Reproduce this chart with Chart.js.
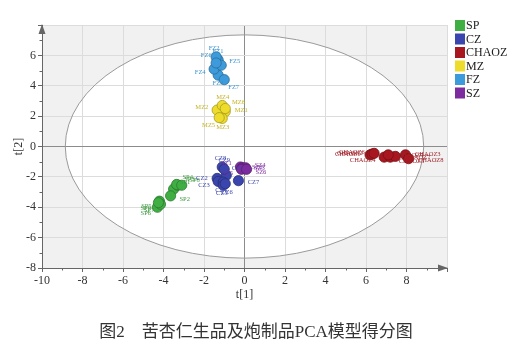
<!DOCTYPE html>
<html>
<head>
<meta charset="utf-8">
<script src="https://cdn.jsdelivr.net/npm/chart.js@4.4.1/dist/chart.umd.min.js"></script>
<style>
  html, body { margin: 0; padding: 0; background: #fff; }
  #wrap { position: relative; width: 512px; height: 352px; }
  #caption {
    position: absolute; left: 0; top: 317px; width: 512px; text-align: center;
    font-family: "Liberation Serif", "Noto Sans CJK SC", serif; font-size: 17px; color: #333;
  }
</style>
</head>
<body>
<div id="wrap">
  <canvas id="pca" width="512" height="352"></canvas>
  <div id="caption">图2　苦杏仁生品及炮制品PCA模型得分图</div>
</div>
<script>
  // Grupos (orden de la leyenda)
  var groups = ['SP', 'CZ', 'CHAOZ', 'MZ', 'FZ', 'SZ'];
  var groupColors = ['#3fae43', '#3a45ad', '#a8171f', '#eedc2c', '#3d9bdb', '#7c2c9f'];

  // Puntuaciones t[1] / t[2] de cada muestra
  var spNames = ['SP1', 'SP2', 'SP3', 'SP4', 'SP5', 'SP6', 'SP7', 'SP8', 'SP9'];
  var spX = [-3.5, -3.65, -3.3, -3.35, -4.2, -4.3, -4.15, -3.1, -4.25];
  var spY = [-2.8, -3.25, -2.55, -2.5, -3.6, -4.0, -3.8, -2.55, -3.7];

  var czNames = ['CZ1', 'CZ2', 'CZ3', 'CZ4', 'CZ5', 'CZ6', 'CZ7', 'CZ8', 'CZ9'];
  var czX = [-0.9, -1.35, -1.3, -1.05, -1.05, -0.95, -0.3, -1.1, -1.0];
  var czY = [-1.9, -2.1, -2.3, -2.35, -2.55, -2.45, -2.25, -1.35, -1.5];

  var chaozNames = ['CHAOZ1', 'CHAOZ2', 'CHAOZ3', 'CHAOZ4', 'CHAOZ5', 'CHAOZ6', 'CHAOZ7', 'CHAOZ8', 'CHAOZ9'];
  var chaozX = [6.2, 6.3, 7.95, 6.9, 7.2, 6.4, 7.45, 8.1, 7.1];
  var chaozY = [-0.55, -0.5, -0.55, -0.7, -0.7, -0.45, -0.65, -0.8, -0.55];

  var mzNames = ['MZ1', 'MZ2', 'MZ3', 'MZ4', 'MZ5', 'MZ6'];
  var mzX = [-0.95, -1.35, -1.1, -1.1, -1.25, -0.95];
  var mzY = [2.3, 2.4, 1.85, 2.7, 1.9, 2.5];

  var fzNames = ['FZ1', 'FZ2', 'FZ3', 'FZ4', 'FZ5', 'FZ6', 'FZ7'];
  var fzX = [-1.3, -1.4, -1.3, -1.5, -1.15, -1.4, -1.0];
  var fzY = [5.7, 5.9, 4.7, 5.1, 5.35, 5.5, 4.4];

  var szNames = ['SZ1', 'SZ2', 'SZ3', 'SZ4', 'SZ5', 'SZ6'];
  var szX = [-0.2, -0.1, 0.0, 0.05, -0.15, 0.1];
  var szY = [-1.35, -1.4, -1.45, -1.4, -1.5, -1.5];

  // Elipse de Hotelling T2 (semiejes en t[1] y t[2])
  var ellipseA = 8.85;
  var ellipseB = 7.35;

  var xTicks = [-10, -8, -6, -4, -2, 0, 2, 4, 6, 8];
  var yTicks = [-8, -6, -4, -2, 0, 2, 4, 6];

  var serif = '"Liberation Serif", "Times New Roman", serif';

  function toPoints(xs, ys) {
    return xs.map(function(x, i) { return { x: x, y: ys[i] }; });
  }

  var allX = [spX, czX, chaozX, mzX, fzX, szX];
  var allY = [spY, czY, chaozY, mzY, fzY, szY];
  var allNames = [spNames, czNames, chaozNames, mzNames, fzNames, szNames];

  function darker(hex, f) {
    var n = parseInt(hex.slice(1), 16);
    var r = Math.round(((n >> 16) & 255) * f), g = Math.round(((n >> 8) & 255) * f), b = Math.round((n & 255) * f);
    return 'rgb(' + r + ',' + g + ',' + b + ')';
  }

  var datasets = groups.map(function(g, i) {
    return {
      label: g,
      data: toPoints(allX[i], allY[i]),
      names: allNames[i],
      backgroundColor: groupColors[i],
      borderColor: darker(groupColors[i], 0.7),
      borderWidth: 0.8,
      pointRadius: 5.1
    };
  });

  // Fondo gris + interior blanco de la elipse
  var ellipsePlugin = {
    id: 'ellipse',
    beforeDraw: function(chart) {
      var ctx = chart.ctx, a = chart.chartArea, sx = chart.scales.x, sy = chart.scales.y;
      ctx.save();
      ctx.fillStyle = '#f1f1f1';
      ctx.fillRect(a.left, a.top, a.right - a.left, a.bottom - a.top);
      var cx = sx.getPixelForValue(0), cy = sy.getPixelForValue(0);
      var rx = sx.getPixelForValue(ellipseA) - cx, ry = cy - sy.getPixelForValue(ellipseB);
      ctx.beginPath();
      ctx.ellipse(cx, cy, rx, ry, 0, 0, Math.PI * 2);
      ctx.fillStyle = '#ffffff';
      ctx.fill();
      ctx.restore();
    },
    beforeDatasetsDraw: function(chart) {
      var ctx = chart.ctx, a = chart.chartArea, sx = chart.scales.x, sy = chart.scales.y;
      var cx = sx.getPixelForValue(0), cy = sy.getPixelForValue(0);
      var rx = sx.getPixelForValue(ellipseA) - cx, ry = cy - sy.getPixelForValue(ellipseB);
      ctx.save();
      ctx.beginPath();
      ctx.ellipse(cx, cy, rx, ry, 0, 0, Math.PI * 2);
      ctx.strokeStyle = '#9a9a9a';
      ctx.lineWidth = 1;
      ctx.stroke();

      // marcas menores y flechas de los ejes
      ctx.strokeStyle = '#666';
      ctx.fillStyle = '#666';
      ctx.beginPath();
      for (var v = -9; v <= 9; v += 2) {
        var px = Math.round(sx.getPixelForValue(v)) + 0.5;
        ctx.moveTo(px, a.bottom); ctx.lineTo(px, a.bottom + 2.5);
      }
      for (var w = -7; w <= 7; w += 2) {
        var py = Math.round(sy.getPixelForValue(w)) + 0.5;
        ctx.moveTo(a.left, py); ctx.lineTo(a.left - 2.5, py);
      }
      ctx.stroke();
      ctx.beginPath();
      ctx.moveTo(a.right + 1, a.bottom);
      ctx.lineTo(a.right - 9, a.bottom - 3.5);
      ctx.lineTo(a.right - 9, a.bottom + 3.5);
      ctx.closePath();
      ctx.fill();
      ctx.beginPath();
      ctx.moveTo(a.left, a.top - 1);
      ctx.lineTo(a.left - 3.5, a.top + 9);
      ctx.lineTo(a.left + 3.5, a.top + 9);
      ctx.closePath();
      ctx.fill();
      ctx.restore();
    }
  };

  // Etiquetas de cada muestra, hacia fuera del centro del grupo
  var labelColors = ['#3e9a40', '#3a45ad', '#a01f27', '#c4b322', '#3a92cf', '#7c2c9f'];
  var labelPlugin = {
    id: 'pointLabels',
    afterDatasetsDraw: function(chart) {
      var ctx = chart.ctx;
      ctx.save();
      ctx.font = '6.5px ' + serif;
      ctx.textBaseline = 'middle';
      chart.data.datasets.forEach(function(ds, i) {
        var pts = chart.getDatasetMeta(i).data;
        var mx = 0, my = 0;
        pts.forEach(function(p) { mx += p.x; my += p.y; });
        mx /= pts.length; my /= pts.length;
        ctx.fillStyle = labelColors[i];
        pts.forEach(function(p, j) {
          var dx = p.x - mx, dy = p.y - my, len = Math.sqrt(dx * dx + dy * dy);
          if (len < 1.5) { dx = 1; dy = 0; len = 1; }
          dx /= len; dy /= len;
          var lx = p.x + dx * 9.5, ly = p.y + dy * 8.5;
          ctx.textAlign = dx > 0.35 ? 'left' : (dx < -0.35 ? 'right' : 'center');
          ctx.fillText(ds.names[j], lx, ly);
        });
      });
      ctx.restore();
    }
  };

  // Leyenda a la derecha
  var legendPlugin = {
    id: 'sideLegend',
    afterDraw: function(chart) {
      var ctx = chart.ctx;
      ctx.save();
      ctx.font = '12px ' + serif;
      ctx.textBaseline = 'middle';
      ctx.textAlign = 'left';
      groups.forEach(function(g, i) {
        var y = 25.5 + i * 13.5;
        ctx.fillStyle = groupColors[i];
        ctx.fillRect(455, y - 5.5, 10, 11);
        ctx.fillStyle = '#222';
        ctx.fillText(g, 466, y + 0.5);
      });
      ctx.restore();
    }
  };

  function gridColor(c) {
    if (c.tick && c.tick.value === 0) return '#8c8c8c';
    return '#dcdcdc';
  }

  new Chart(document.getElementById('pca').getContext('2d'), {
    type: 'scatter',
    data: { datasets: datasets },
    options: {
      responsive: false,
      animation: false,
      devicePixelRatio: 1,
      layout: { padding: { left: 12, right: 65, top: 25, bottom: 48 } },
      plugins: {
        legend: { display: false },
        tooltip: { enabled: false }
      },
      scales: {
        x: {
          type: 'linear', min: -10, max: 10,
          afterBuildTicks: function(s) { s.ticks = xTicks.concat([10]).map(function(v) { return { value: v }; }); },
          afterFit: function(s) { s.height = 36; },
          ticks: {
            color: '#333', padding: 2, maxRotation: 0,
            font: { family: serif, size: 12 },
            callback: function(v) { return xTicks.indexOf(v) >= 0 ? String(v) : ''; }
          },
          grid: { color: gridColor, tickLength: 4, tickColor: '#666' },
          border: { color: '#666' },
          title: { display: true, text: 't[1]', color: '#333', font: { family: serif, size: 12 }, padding: { top: 0, bottom: 2 } }
        },
        y: {
          type: 'linear', min: -8, max: 8,
          afterBuildTicks: function(s) { s.ticks = yTicks.concat([8]).map(function(v) { return { value: v }; }); },
          afterFit: function(s) { s.width = 30; },
          ticks: {
            color: '#333', padding: 2,
            font: { family: serif, size: 12 },
            callback: function(v) { return yTicks.indexOf(v) >= 0 ? String(v) : ''; }
          },
          grid: { color: gridColor, tickLength: 4, tickColor: '#666' },
          border: { color: '#666' },
          title: { display: true, text: 't[2]', color: '#333', font: { family: serif, size: 12 }, padding: { top: 0, bottom: 0 } }
        }
      }
    },
    plugins: [ellipsePlugin, labelPlugin, legendPlugin]
  });
</script>
</body>
</html>
